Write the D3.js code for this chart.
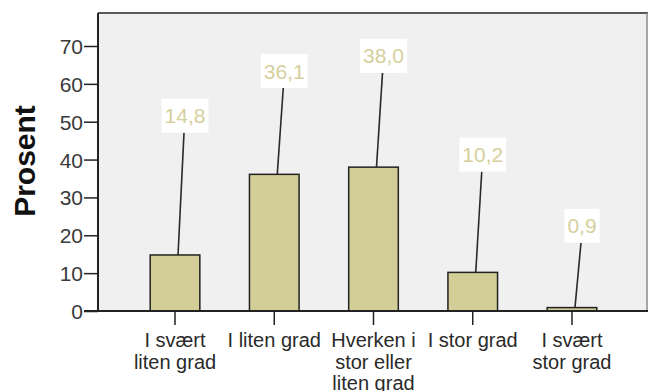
<!DOCTYPE html>
<html>
<head>
<meta charset="utf-8">
<script src="https://cdn.jsdelivr.net/npm/d3@7"></script>
<style>
  body { margin: 0; background: #fff; }
  text { font-family: Arial, "Liberation Sans", sans-serif; }
</style>
</head>
<body>
<div id="chart"></div>
<script>
// categories (split into lines as in the original)
var categories = ['I svært liten grad', 'I liten grad', 'Hverken i stor eller liten grad', 'I stor grad', 'I svært stor grad']
var categoryLines = [['I svært', 'liten grad'], ['I liten grad'], ['Hverken i', 'stor eller', 'liten grad'], ['I stor grad'], ['I svært', 'stor grad']]
// percent per category
var percent = [14.8, 36.1, 38.0, 10.2, 0.9]
var percentLabels = ['14,8', '36,1', '38,0', '10,2', '0,9']
// level (in percent units) where each value label sits
var labelLevel = [51.6, 63.4, 67.4, 41.3, 22.5]
var yTicks = [0, 10, 20, 30, 40, 50, 60, 70]

var width = 648, height = 391
var plot = { left: 98, top: 13, right: 647, bottom: 311 }

var svg = d3.select('#chart').append('svg')
  .attr('width', width)
  .attr('height', height)

// scales
var xScale = d3.scaleBand()
  .domain(categories)
  .range([125.4, 621.6])
  .paddingInner(0.5)
  .paddingOuter(0.25)

var yScale = d3.scaleLinear()
  .domain([0, 70])
  .range([plot.bottom, 46])

// plot background + frame
svg.append('rect')
  .attr('x', plot.left)
  .attr('y', plot.top)
  .attr('width', plot.right - plot.left)
  .attr('height', plot.bottom - plot.top)
  .style('fill', '#f0f0f0')

svg.append('line')
  .attr('x1', plot.left).attr('x2', plot.right + 1)
  .attr('y1', plot.top).attr('y2', plot.top)
  .style('stroke', '#5a5a5a')
  .style('stroke-width', 2)

svg.append('line')
  .attr('x1', plot.right).attr('x2', plot.right)
  .attr('y1', plot.top).attr('y2', plot.bottom)
  .style('stroke', '#8a8a8a')
  .style('stroke-width', 1.5)

// bars
var data = categories.map(function(c, i) {
  return { category: c, value: percent[i], label: percentLabels[i], level: labelLevel[i], lines: categoryLines[i] }
})

svg.append('g').classed('bars', true)
  .selectAll('rect')
  .data(data)
  .enter()
  .append('rect')
  .attr('x', d => xScale(d.category))
  .attr('y', d => yScale(d.value))
  .attr('width', xScale.bandwidth())
  .attr('height', d => yScale(0) - yScale(d.value))
  .style('fill', '#d3cd97')
  .style('stroke', '#222')
  .style('stroke-width', 1.5)

// axes
var yAxis = svg.append('g')
  .attr('transform', 'translate(' + plot.left + ',0)')
  .call(d3.axisLeft(yScale).tickValues(yTicks).tickSize(14).tickSizeOuter(0).tickPadding(1))

yAxis.select('.domain').remove()
yAxis.selectAll('.tick line').style('stroke', '#222').style('stroke-width', 1.5)
yAxis.selectAll('.tick text')
  .style('font-size', '21px')
  .style('fill', '#3a3a3a')
  .attr('dy', '0.36em')

svg.append('line')
  .attr('x1', plot.left).attr('x2', plot.left)
  .attr('y1', plot.top).attr('y2', plot.bottom)
  .style('stroke', '#222')
  .style('stroke-width', 2)

var xAxis = svg.append('g')
  .attr('transform', 'translate(0,' + plot.bottom + ')')
  .call(d3.axisBottom(xScale).tickSize(14).tickSizeOuter(0).tickFormat(''))

xAxis.select('.domain').remove()
xAxis.selectAll('.tick line').style('stroke', '#222').style('stroke-width', 1.5)

svg.append('line')
  .attr('x1', plot.left - 14).attr('x2', plot.right + 1)
  .attr('y1', plot.bottom).attr('y2', plot.bottom)
  .style('stroke', '#222')
  .style('stroke-width', 2)

// category labels
var catLabels = svg.append('g').classed('cat-labels', true)
data.forEach(function(d) {
  var cx = xScale(d.category) + xScale.bandwidth() / 2
  var t = catLabels.append('text')
    .attr('text-anchor', 'middle')
    .style('font-size', '20px')
    .style('fill', '#2a2a2a')
  d.lines.forEach(function(line, j) {
    t.append('tspan')
      .attr('x', cx)
      .attr('y', 347 + j * 21.5)
      .text(line)
  })
})

// value labels with leader lines
var valueLayer = svg.append('g').classed('value-labels', true)
data.forEach(function(d) {
  var cx = xScale(d.category) + xScale.bandwidth() / 2
  var lx = cx + 10
  var ly = yScale(d.level)

  valueLayer.append('line')
    .attr('x1', lx - 1).attr('y1', ly + 17)
    .attr('x2', cx + 3).attr('y2', yScale(d.value))
    .style('stroke', '#2a2a2a')
    .style('stroke-width', 1.6)

  var t = valueLayer.append('text')
    .attr('x', lx)
    .attr('y', ly)
    .attr('dy', '0.36em')
    .attr('text-anchor', 'middle')
    .style('font-size', '21px')
    .style('fill', '#d6cf9d')
    .text(d.label)

  var bb = t.node().getBBox()
  valueLayer.insert('rect', function() { return t.node() })
    .attr('x', lx - bb.width / 2 - 3)
    .attr('y', ly - 17)
    .attr('width', bb.width + 6)
    .attr('height', 34)
    .style('fill', '#fff')
})

// y title
svg.append('text')
  .attr('transform', 'translate(35,161) rotate(-90)')
  .attr('text-anchor', 'middle')
  .style('font-size', '30px')
  .style('font-weight', 'bold')
  .style('fill', '#111')
  .text('Prosent')
</script>
</body>
</html>
